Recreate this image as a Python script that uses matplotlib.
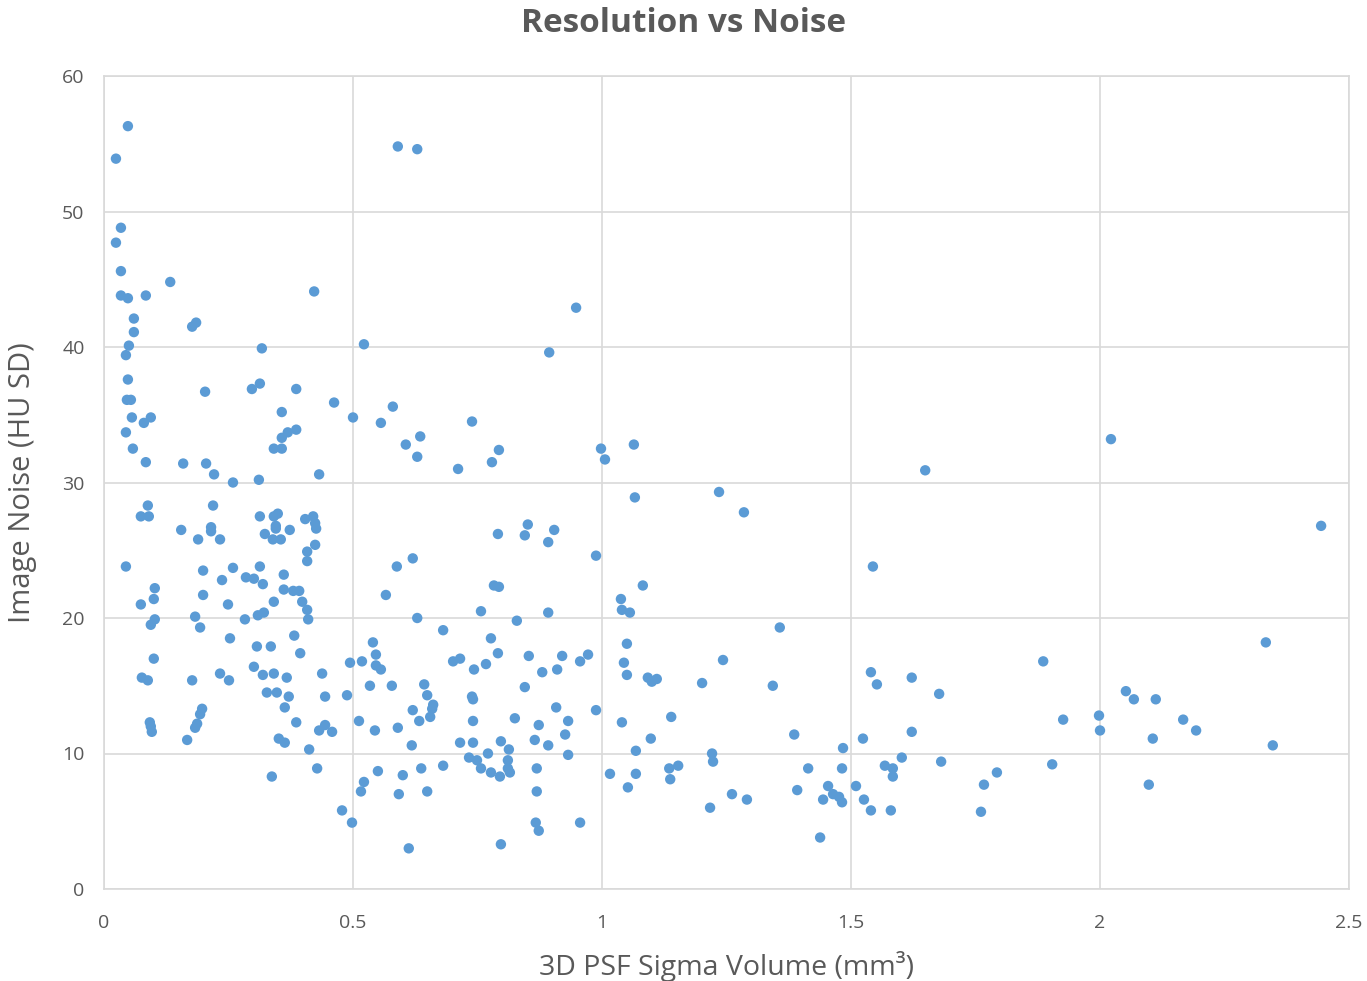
import matplotlib
matplotlib.use("Agg")
import matplotlib.pyplot as plt

plt.rcParams['font.family'] = ['Open Sans', 'DejaVu Sans']

title = "Resolution vs Noise"
x_label = "3D PSF Sigma Volume (mm³)"
y_label = "Image Noise (HU SD)"
x_ticks = [0, 0.5, 1, 1.5, 2, 2.5]
x_tick_labels = ["0", "0.5", "1", "1.5", "2", "2.5"]
y_ticks = [0, 10, 20, 30, 40, 50, 60]

# Group 1: smallest volumes, high noise
sigma_a = [0.048, 0.024, 0.034, 0.024, 0.034, 0.034, 0.048, 0.084, 0.133, 0.422,
           0.060, 0.060, 0.050, 0.044, 0.317, 0.048, 0.313, 0.297, 0.386, 0.203,
           0.462, 0.046, 0.054, 0.056, 0.080, 0.094, 0.357, 0.044, 0.357, 0.369,
           0.386, 0.341, 0.357, 0.058, 0.084, 0.159, 0.205, 0.177, 0.185]
noise_a = [56.3, 53.9, 48.8, 47.7, 45.6, 43.8, 43.6, 43.8, 44.8, 44.1,
           42.1, 41.1, 40.1, 39.4, 39.9, 37.6, 37.3, 36.9, 36.9, 36.7,
           35.9, 36.1, 36.1, 34.8, 34.4, 34.8, 35.2, 33.7, 33.3, 33.7,
           33.9, 32.5, 32.5, 32.5, 31.5, 31.4, 31.4, 41.5, 41.8]

# Group 2: small volumes, mid noise
sigma_b = [0.221, 0.259, 0.311, 0.432, 0.088, 0.074, 0.090, 0.219, 0.155, 0.215,
           0.215, 0.189, 0.233, 0.313, 0.349, 0.341, 0.345, 0.345, 0.373, 0.323,
           0.339, 0.355, 0.404, 0.420, 0.424, 0.426, 0.424, 0.408, 0.408, 0.044,
           0.199, 0.259, 0.313, 0.237, 0.285, 0.301, 0.319, 0.361, 0.361, 0.380,
           0.392, 0.102, 0.100, 0.074, 0.199, 0.249, 0.341, 0.398, 0.408, 0.410,
           0.183, 0.193, 0.283, 0.309, 0.321, 0.102, 0.094, 0.253, 0.307, 0.335,
           0.382, 0.394, 0.100, 0.301, 0.319, 0.341, 0.367, 0.438, 0.076, 0.088,
           0.177, 0.233, 0.251, 0.327, 0.347, 0.371, 0.444, 0.363, 0.197, 0.193,
           0.092, 0.094, 0.096, 0.187, 0.183, 0.167, 0.386, 0.432, 0.444, 0.458,
           0.351, 0.363, 0.412, 0.428, 0.337]
noise_b = [30.6, 30.0, 30.2, 30.6, 28.3, 27.5, 27.5, 28.3, 26.5, 26.7,
           26.4, 25.8, 25.8, 27.5, 27.7, 27.5, 26.8, 26.6, 26.5, 26.2,
           25.8, 25.8, 27.3, 27.5, 27.0, 26.6, 25.4, 24.9, 24.2, 23.8,
           23.5, 23.7, 23.8, 22.8, 23.0, 22.9, 22.5, 23.2, 22.1, 22.0,
           22.0, 22.2, 21.4, 21.0, 21.7, 21.0, 21.2, 21.2, 20.6, 19.9,
           20.1, 19.3, 19.9, 20.2, 20.4, 19.9, 19.5, 18.5, 17.9, 17.9,
           18.7, 17.4, 17.0, 16.4, 15.8, 15.9, 15.6, 15.9, 15.6, 15.4,
           15.4, 15.9, 15.4, 14.5, 14.5, 14.2, 14.2, 13.4, 13.3, 12.9,
           12.3, 12.0, 11.6, 12.2, 11.9, 11.0, 12.3, 11.7, 12.1, 11.6,
           11.1, 10.8, 10.3, 8.9, 8.3]

# Group 3: medium volumes
sigma_c = [0.590, 0.629, 0.948, 0.522, 0.894, 0.500, 0.556, 0.580, 0.606, 0.635,
           0.629, 0.739, 0.711, 0.779, 0.793, 0.998, 1.006, 1.064, 1.066, 0.791,
           0.851, 0.845, 0.904, 0.892, 0.620, 0.588, 0.988, 0.566, 0.783, 0.793,
           0.757, 0.892, 0.829, 0.629, 0.681, 0.777, 0.540, 0.546, 0.546, 0.556,
           0.494, 0.518, 0.701, 0.715, 0.791, 0.767, 0.743, 0.853, 0.920, 0.972,
           0.956, 0.880, 0.910, 1.038, 1.040, 1.056, 1.050, 1.044, 1.050, 0.488,
           0.534, 0.578, 0.643, 0.649, 0.661, 0.659, 0.655, 0.620, 0.633, 0.739,
           0.741, 0.845, 0.908, 0.825, 0.741, 0.873, 0.932, 0.988, 1.040, 0.512,
           0.544, 0.590, 0.618, 0.715, 0.741, 0.797, 0.813, 0.771, 0.865, 0.892,
           0.926, 0.932, 0.733, 0.749, 0.757, 0.777, 0.795, 0.811, 0.811, 0.815,
           0.869, 0.550, 0.522, 0.516, 0.600, 0.637, 0.681, 0.592, 0.649, 0.869,
           1.068, 1.016, 1.068, 1.052, 0.478, 0.498, 0.867, 0.873, 0.956, 0.612,
           0.797]
noise_c = [54.8, 54.6, 42.9, 40.2, 39.6, 34.8, 34.4, 35.6, 32.8, 33.4,
           31.9, 34.5, 31.0, 31.5, 32.4, 32.5, 31.7, 32.8, 28.9, 26.2,
           26.9, 26.1, 26.5, 25.6, 24.4, 23.8, 24.6, 21.7, 22.4, 22.3,
           20.5, 20.4, 19.8, 20.0, 19.1, 18.5, 18.2, 17.3, 16.5, 16.2,
           16.7, 16.8, 16.8, 17.0, 17.4, 16.6, 16.2, 17.2, 17.2, 17.3,
           16.8, 16.0, 16.2, 21.4, 20.6, 20.4, 18.1, 16.7, 15.8, 14.3,
           15.0, 15.0, 15.1, 14.3, 13.6, 13.3, 12.7, 13.2, 12.4, 14.2,
           14.0, 14.9, 13.4, 12.6, 12.4, 12.1, 12.4, 13.2, 12.3, 12.4,
           11.7, 11.9, 10.6, 10.8, 10.8, 10.9, 10.3, 10.0, 11.0, 10.6,
           11.4, 9.9, 9.7, 9.5, 8.9, 8.6, 8.3, 9.5, 8.9, 8.6,
           8.9, 8.7, 7.9, 7.2, 8.4, 8.9, 9.1, 7.0, 7.2, 7.2,
           10.2, 8.5, 8.5, 7.5, 5.8, 4.9, 4.9, 4.3, 4.9, 3.0,
           3.3]

# Group 4: larger volumes
sigma_d = [1.649, 1.235, 1.285, 1.544, 1.082, 1.357, 1.243, 1.092, 1.100, 1.110,
           1.201, 1.343, 1.540, 1.552, 1.622, 1.139, 1.098, 1.386, 1.524, 1.622,
           1.484, 1.221, 1.223, 1.135, 1.153, 1.137, 1.414, 1.482, 1.568, 1.584,
           1.584, 1.602, 1.454, 1.464, 1.444, 1.476, 1.482, 1.510, 1.526, 1.540,
           1.580, 1.261, 1.291, 1.217, 1.392, 1.438]
noise_d = [30.9, 29.3, 27.8, 23.8, 22.4, 19.3, 16.9, 15.6, 15.3, 15.5,
           15.2, 15.0, 16.0, 15.1, 15.6, 12.7, 11.1, 11.4, 11.1, 11.6,
           10.4, 10.0, 9.4, 8.9, 9.1, 8.1, 8.9, 8.9, 9.1, 8.9,
           8.3, 9.7, 7.6, 7.0, 6.6, 6.8, 6.4, 7.6, 6.6, 5.8,
           5.8, 7.0, 6.6, 6.0, 7.3, 3.8]

# Group 5: largest volumes
sigma_e = [2.022, 2.444, 2.333, 1.886, 1.677, 2.052, 2.068, 2.112, 1.926, 1.998,
           2.000, 2.167, 2.193, 2.106, 2.347, 1.681, 1.793, 1.767, 1.904, 2.098,
           1.761]
noise_e = [33.2, 26.8, 18.2, 16.8, 14.4, 14.6, 14.0, 14.0, 12.5, 12.8,
           11.7, 12.5, 11.7, 11.1, 10.6, 9.4, 8.6, 7.7, 9.2, 7.7,
           5.7]

sigma = sigma_a + sigma_b + sigma_c + sigma_d + sigma_e
noise = noise_a + noise_b + noise_c + noise_d + noise_e

W, H = 1367, 981
fig = plt.figure(figsize=(W / 100, H / 100), dpi=100)
ax = fig.add_axes([104 / W, 1 - 889 / H, (1349 - 104) / W, (889 - 76) / H])

ax.scatter(sigma, noise, s=56, color="#5B9BD5", edgecolors="none", zorder=3)

ax.set_xlim(0, 2.5)
ax.set_ylim(0, 60)
ax.set_xticks(x_ticks)
ax.set_xticklabels(x_tick_labels)
ax.set_yticks(y_ticks)
ax.grid(True, color="#D9D9D9", linewidth=1.2, zorder=0)
ax.set_axisbelow(True)
for s in ax.spines.values():
    s.set_color("#D9D9D9")
    s.set_linewidth(1.2)
ax.tick_params(axis="x", length=0, labelsize=14, colors="#595959", pad=18)
ax.tick_params(axis="y", length=0, labelsize=14, colors="#595959", pad=14)

ax.set_xlabel(x_label, fontsize=20.5, color="#595959", labelpad=14)
ax.set_ylabel(y_label, fontsize=21, color="#595959", labelpad=18)
fig.text(0.5, 1 - 24 / H, title, ha="center", va="center",
         fontsize=24, fontweight="bold", color="#595959")

fig.savefig("out.png", dpi=100)
